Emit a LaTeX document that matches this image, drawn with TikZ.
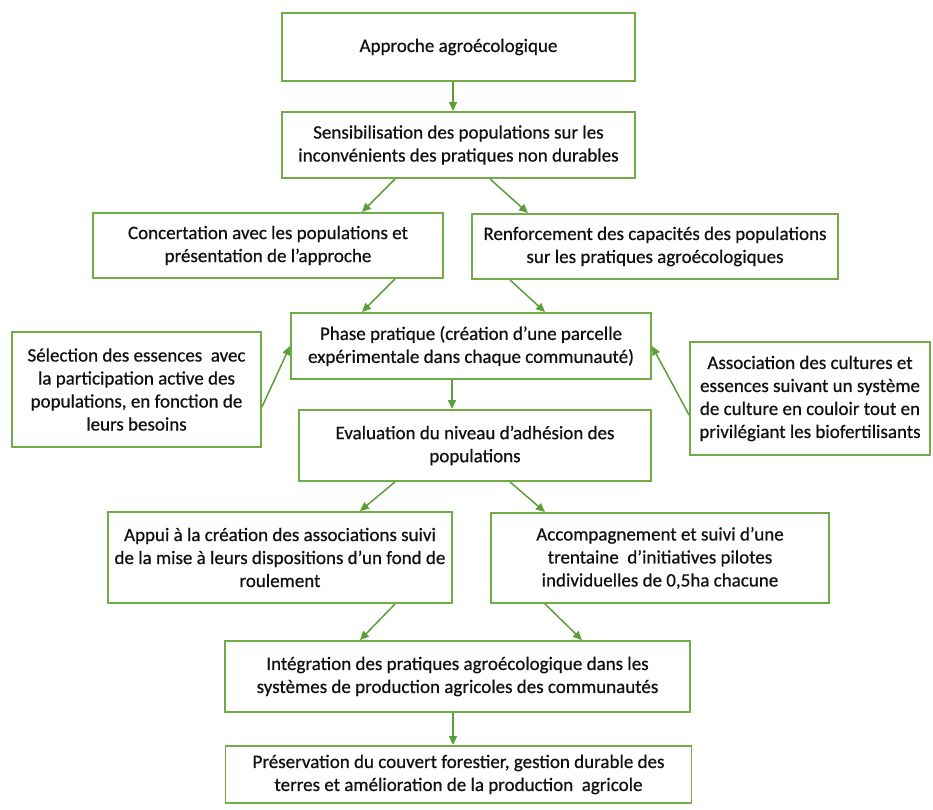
\documentclass[tikz,border=0pt]{standalone}
\usepackage{fontspec}
\setmainfont[FakeBold=0.6]{Carlito}
\usetikzlibrary{arrows.meta}
\definecolor{boxgreen}{HTML}{70AD47}
\definecolor{arrgreen}{HTML}{5E9E3A}
\definecolor{txt}{HTML}{111111}
\tikzset{
  flowbox/.style={draw=boxgreen, line width=1.9pt, fill=white, rectangle, inner sep=0pt,
    align=center, text=txt, font=\fontsize{19pt}{23pt}\selectfont},
  arr/.style={draw=arrgreen, line width=1.5pt, -{Triangle[length=9pt,width=8pt]}}
}
\begin{document}
\begin{tikzpicture}[x=1pt,y=-1pt]
\useasboundingbox (0,0) rectangle (933,809);
\node[flowbox, minimum width=353pt, minimum height=68pt] (a1) at (458.5,47) {Approche agroécologique};
\node[flowbox, minimum width=353pt, minimum height=66pt] (a2) at (458.5,145) {Sensibilisation des populations sur les\\inconvénients des pratiques non durables};
\node[flowbox, minimum width=350pt, minimum height=65pt] (a3) at (268,245.5) {Concertation avec les populations et\\présentation de l’approche};
\node[flowbox, minimum width=366pt, minimum height=65pt] (a4) at (655,246.5) {Renforcement des capacités des populations\\sur les pratiques agroécologiques};
\node[flowbox, minimum width=360pt, minimum height=66pt] (a5) at (471,346) {Phase pratique (création d’une parcelle\\expérimentale dans chaque communauté)};
\node[flowbox, minimum width=249pt, minimum height=115pt] (sel) at (136.5,389.5) {Sélection des essences~ avec\\la participation active des\\populations, en fonction de\\leurs besoins};
\node[flowbox, minimum width=240pt, minimum height=113pt] (asso) at (810,398.5) {Association des cultures et\\essences suivant un système\\de culture en couloir tout en\\privilégiant les biofertilisants};
\node[flowbox, minimum width=352pt, minimum height=71pt] (ev) at (475,445.5) {Evaluation du niveau d’adhésion des\\populations};
\node[flowbox, minimum width=344pt, minimum height=91pt] (ap) at (280,557.5) {Appui à la création des associations suivi\\de la mise à leurs dispositions d’un fond de\\roulement};
\node[flowbox, minimum width=338pt, minimum height=90pt] (ac) at (660,558) {Accompagnement et suivi d’une\\trentaine~ d’initiatives pilotes\\individuelles de 0,5ha chacune};
\node[flowbox, minimum width=465pt, minimum height=71pt] (in) at (457.5,676.5) {Intégration des pratiques agroécologique dans les\\systèmes de production agricoles des communautés};
\node[flowbox, minimum width=466pt, minimum height=57pt] (pr) at (458.5,774.5) {Préservation du couvert forestier, gestion durable des\\terres et amélioration de la production~ agricole};
\draw[arr] ([xshift=-5.5pt]a1.south) -- ([xshift=-5.5pt]a2.north);
\draw[arr] ([xshift=-63.5pt]a2.south) -- ([xshift=94pt]a3.north);
\draw[arr] ([xshift=31.5pt]a2.south) -- ([xshift=-127pt]a4.north);
\draw[arr] ([xshift=127pt]a3.south) -- ([xshift=-109pt]a5.north);
\draw[arr] ([xshift=-145pt]a4.south) -- ([xshift=74pt]a5.north);
\draw[arr] ([yshift=-17.5pt]sel.east) -- (a5.west);
\draw[arr] ([yshift=-16.5pt]asso.west) -- (a5.east);
\draw[arr] ([xshift=-19pt]a5.south) -- ([xshift=-19pt]a5.south |- ev.north);
\draw[arr] ([xshift=-80pt]ev.south) -- ([xshift=80pt]ap.north);
\draw[arr] ([xshift=35pt]ev.south) -- ([xshift=-115pt]ac.north);
\draw[arr] ([xshift=115pt]ap.south) -- ([xshift=-97.5pt]in.north);
\draw[arr] ([xshift=-115pt]ac.south) -- ([xshift=124.5pt]in.north);
\draw[arr] ([xshift=-4.5pt]in.south) -- ([xshift=-4.5pt]in.south |- pr.north);
\end{tikzpicture}
\end{document}
